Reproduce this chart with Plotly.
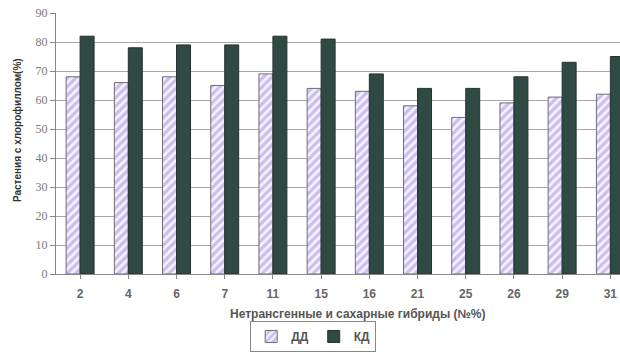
import plotly.graph_objects as go

categories = ["2", "4", "6", "7", "11", "15", "16", "21", "25", "26", "29", "31"]
dd_values = [68, 66, 68, 65, 69, 64, 63, 58, 54, 59, 61, 62]
kd_values = [82, 78, 79, 79, 82, 81, 69, 64, 64, 68, 73, 75]
y_ticks = [0, 10, 20, 30, 40, 50, 60, 70, 80, 90]

fig = go.Figure()
fig.add_trace(go.Bar(
    x=categories, y=dd_values, name="ДД",
    marker=dict(
        color="#ece6fa",
        line=dict(color="#6f6a78", width=1),
        pattern=dict(shape="/", fgcolor="#a288e2", bgcolor="#f6f3fd", size=6, solidity=0.55),
    ),
))
fig.add_trace(go.Bar(
    x=categories, y=kd_values, name="КД",
    marker=dict(color="#2f4a43", line=dict(color="#24332f", width=1)),
))

fig.update_layout(
    width=620, height=352,
    margin=dict(l=56, r=0, t=13, b=78, autoexpand=False),
    paper_bgcolor="white", plot_bgcolor="white",
    barmode="group", bargap=0.42, bargroupgap=0,
    showlegend=True,
    legend=dict(
        orientation="h", x=0.456, xanchor="center", y=-0.18, yanchor="top",
        bordercolor="#888", borderwidth=1, bgcolor="white",
        font=dict(family="Liberation Sans", size=12, color="#555", weight="bold"),
        itemwidth=30, tracegroupgap=0,
    ),
    font=dict(family="Liberation Sans", color="#555"),
)
fig.update_xaxes(
    type="category", range=[-0.5, 11.2],
    showline=True, linecolor="#888", linewidth=1,
    ticks="outside", ticklen=4, tickcolor="#888",
    tickfont=dict(family="Liberation Sans", size=12, color="#666", weight="bold"),
    ticklabelstandoff=5,
    showgrid=False,
)
fig.update_yaxes(
    range=[0, 90], tickvals=y_ticks,
    showline=True, linecolor="#888", linewidth=1,
    ticks="outside", ticklen=5, tickcolor="#888",
    tickfont=dict(family="Liberation Serif", size=12, color="#777"),
    showgrid=True, gridcolor="#a8a8a8", gridwidth=1,
    zeroline=False,
)
fig.add_annotation(
    text="Растения с хлорофиллом(%)", xref="paper", yref="paper",
    x=-0.068, y=0.55, xanchor="center", yanchor="middle", textangle=-90,
    showarrow=False, font=dict(family="Liberation Sans", size=10, color="#333", weight="bold"),
)
fig.add_annotation(
    text="Нетрансгенные и сахарные гибриды (№%)", xref="paper", yref="paper",
    x=0.535, y=-0.155, xanchor="center", yanchor="middle",
    showarrow=False, font=dict(family="Liberation Sans", size=12, color="#555", weight="bold"),
)

fig.write_html("out.html")
